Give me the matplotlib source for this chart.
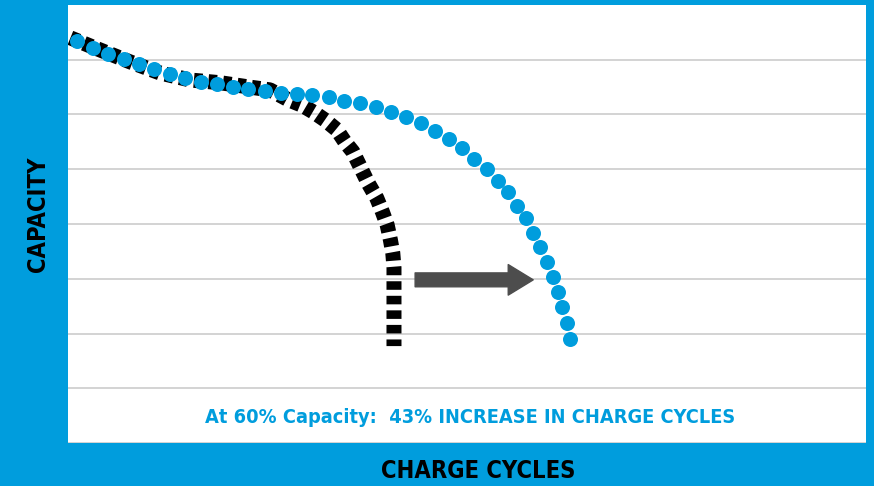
import matplotlib.pyplot as plt

# blue curve: improved battery (dots)
blue_x = [1.1, 3.1, 5.0, 7.0, 8.9, 10.8, 12.8, 14.7, 16.7, 18.7, 20.7, 22.6, 24.7, 26.7,
          28.7, 30.6, 32.7, 34.6, 36.6, 38.6, 40.5, 42.4, 44.2, 46.0, 47.7, 49.4, 50.9,
          52.5, 53.9, 55.1, 56.3, 57.4, 58.3, 59.2, 60.0, 60.8, 61.4, 61.9, 62.5, 62.9]
blue_y = [7.34, 7.21, 7.11, 7.01, 6.92, 6.83, 6.74, 6.67, 6.60, 6.56, 6.50, 6.47, 6.43, 6.39,
          6.38, 6.36, 6.32, 6.25, 6.21, 6.14, 6.05, 5.96, 5.85, 5.70, 5.55, 5.39, 5.19,
          5.00, 4.79, 4.58, 4.33, 4.11, 3.84, 3.58, 3.31, 3.03, 2.76, 2.48, 2.19, 1.90]

# black curve: standard battery (dashes)
black_x = [0.3, 4.0, 7.8, 11.5, 15.3, 19.1, 22.8, 25.3, 27.6, 29.3, 30.7, 32.2, 33.7,
           34.7, 35.7, 36.8, 37.6, 38.7, 39.4, 40.0, 40.4, 40.7, 40.85, 40.85, 40.85, 40.85]
black_y = [7.40, 7.18, 6.96, 6.76, 6.63, 6.58, 6.50, 6.45, 6.27, 6.17, 6.05, 5.90, 5.72,
           5.50, 5.32, 4.99, 4.75, 4.47, 4.22, 3.98, 3.71, 3.47, 3.20, 2.92, 2.40, 1.77]

arrow_from = (43.5, 2.98)
arrow_to = (58.3, 2.98)

blue = '#009ddd'

fig = plt.figure(figsize=(8.74, 4.86), dpi=100, facecolor=blue)
ax = fig.add_axes([68 / 874, 43 / 486, 798 / 874, 438 / 486])
ax.set_facecolor('white')

ax.set_xlim(0, 100)
ax.set_ylim(0, 8)
ax.set_yticks(range(0, 8))
ax.set_xticks([])
ax.grid(axis='y', color='#c8c8c8', linewidth=1.1)
ax.tick_params(left=False, labelleft=False)
for s in ax.spines.values():
    s.set_visible(False)

ax.plot(black_x, black_y, color='black', linewidth=10.8,
        linestyle=(0, (0.57, 0.4)), dash_capstyle='butt', zorder=3)
ax.plot(blue_x, blue_y, linestyle='none', marker='o', markersize=10.8,
        markerfacecolor=blue, markeredgewidth=0, zorder=4)

ax.annotate('', xy=arrow_to, xytext=arrow_from,
            arrowprops=dict(arrowstyle='simple,head_length=1.8,head_width=2.2,tail_width=1.0',
                            color='#4d4d4d', shrinkA=0, shrinkB=0), zorder=5)

ax.text(0.504, 0.059, 'At 60% Capacity:  43% INCREASE IN CHARGE CYCLES',
        transform=ax.transAxes, ha='center', va='center', color=blue,
        fontsize=14.3, fontweight='bold', fontstretch='condensed')

fig.text(38 / 874, 1 - 214 / 486, 'CAPACITY', rotation=90, ha='center', va='center',
         fontsize=17, fontweight='bold', fontstretch='condensed', color='black')
fig.text(478 / 874, 1 - 471 / 486, 'CHARGE CYCLES', ha='center', va='center',
         fontsize=17, fontweight='bold', fontstretch='condensed', color='black')

fig.savefig('out.png', dpi=100, facecolor=blue)
